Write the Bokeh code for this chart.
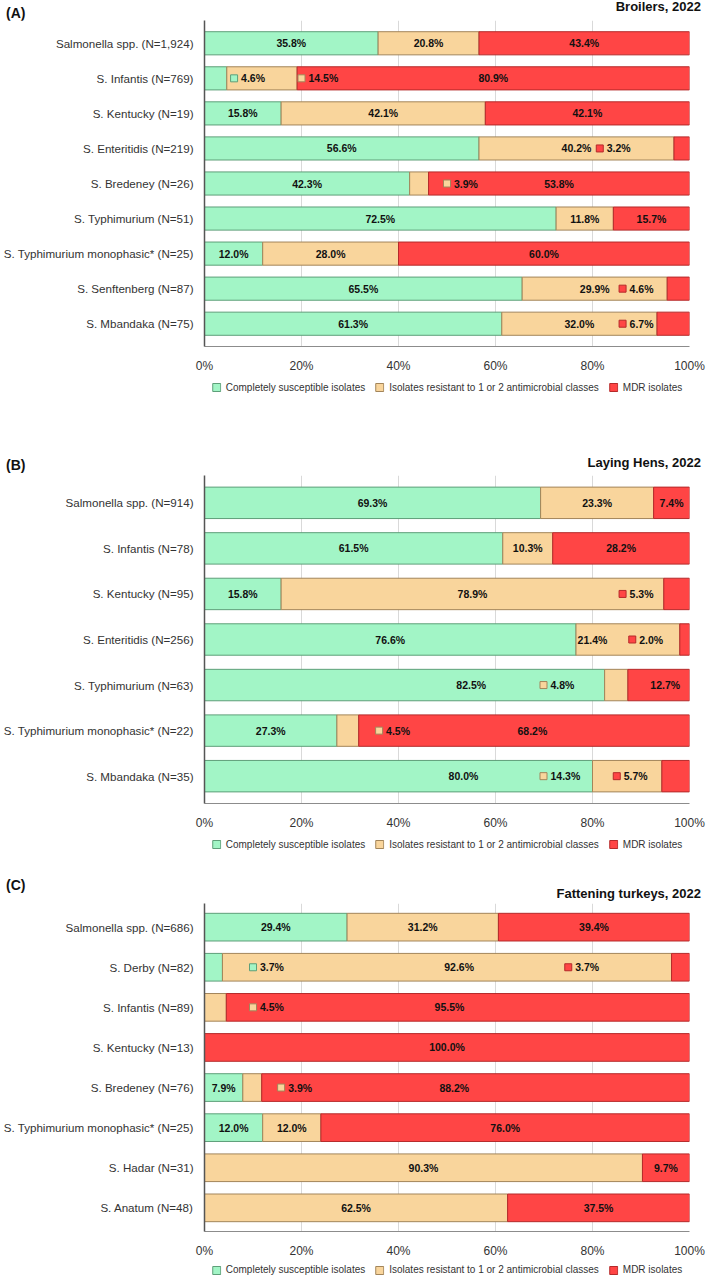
from bokeh.plotting import figure
from bokeh.layouts import column
from bokeh.models import (Range1d, FixedTicker, Legend, LegendItem, Div,
                          ColumnDataSource)
from bokeh.embed import file_html
from bokeh.resources import INLINE
from bokeh.core.properties import value

# ---------------- data ----------------
series_names = ["Completely susceptible isolates",
                "Isolates resistant to 1 or 2 antimicrobial classes",
                "MDR isolates"]

a_cats = ["Salmonella spp. (N=1,924)", "S. Infantis (N=769)", "S. Kentucky (N=19)",
          "S. Enteritidis (N=219)", "S. Bredeney (N=26)", "S. Typhimurium (N=51)",
          "S. Typhimurium monophasic* (N=25)", "S. Senftenberg (N=87)", "S. Mbandaka (N=75)"]
a_susc = [35.8, 4.6, 15.8, 56.6, 42.3, 72.5, 12.0, 65.5, 61.3]
a_res = [20.8, 14.5, 42.1, 40.2, 3.9, 11.8, 28.0, 29.9, 32.0]
a_mdr = [43.4, 80.9, 42.1, 3.2, 53.8, 15.7, 60.0, 4.6, 6.7]

b_cats = ["Salmonella spp. (N=914)", "S. Infantis (N=78)", "S. Kentucky (N=95)",
          "S. Enteritidis (N=256)", "S. Typhimurium (N=63)",
          "S. Typhimurium monophasic* (N=22)", "S. Mbandaka (N=35)"]
b_susc = [69.3, 61.5, 15.8, 76.6, 82.5, 27.3, 80.0]
b_res = [23.3, 10.3, 78.9, 21.4, 4.8, 4.5, 14.3]
b_mdr = [7.4, 28.2, 5.3, 2.0, 12.7, 68.2, 5.7]

c_cats = ["Salmonella spp. (N=686)", "S. Derby (N=82)", "S. Infantis (N=89)",
          "S. Kentucky (N=13)", "S. Bredeney (N=76)",
          "S. Typhimurium monophasic* (N=25)", "S. Hadar (N=31)", "S. Anatum (N=48)"]
c_susc = [29.4, 3.7, 0.0, 0.0, 7.9, 12.0, 0.0, 0.0]
c_res = [31.2, 92.6, 4.5, 0.0, 3.9, 12.0, 90.3, 62.5]
c_mdr = [39.4, 3.7, 95.5, 100.0, 88.2, 76.0, 9.7, 37.5]

x_ticks = [0, 20, 40, 60, 80, 100]

# ------------- layout / style (not data) -------------
FILL = ["#a2f5c6", "#f9d59c", "#ff4545"]
EDGE = ["#5e9f79", "#a3855a", "#b52a2a"]
FONT = "Liberation Sans"
W = 709

# data-label callouts: (row, series, marker position in %)
a_callouts = [(1, 0, 6.1), (1, 1, 20.0), (3, 2, 81.5), (4, 1, 50.0), (7, 2, 86.2), (8, 2, 86.2)]
b_callouts = [(2, 2, 86.2), (3, 2, 88.2), (4, 1, 69.9), (5, 1, 36.0), (6, 1, 69.9), (6, 2, 85.0)]
c_callouts = [(1, 0, 10.0), (1, 2, 75.0), (2, 1, 10.0), (4, 1, 15.8)]
# labels that the source chart moved away from the segment centre (row, series, position in %)
a_moved = []
b_moved = [(3, 1, 80.0), (4, 0, 55.0), (6, 0, 53.4), (4, 2, 95.0), (5, 2, 67.6)]
c_moved = [(1, 1, 52.5), (2, 2, 50.5), (4, 2, 51.5)]


def header(tag, title, h, tag_top, title_top):
    html = (f'<div style="position:relative;width:{W}px;height:{h}px;'
            f'font-family:\'Liberation Sans\',Arial,sans-serif;font-weight:bold;color:#111;">'
            f'<span style="position:absolute;left:6px;top:{tag_top}px;font-size:14px;'
            f'line-height:16px;white-space:nowrap;">{tag}</span>'
            f'<span style="position:absolute;right:8px;top:{title_top}px;font-size:13px;'
            f'line-height:14px;white-space:nowrap;">{title}</span></div>')
    return Div(text=html, width=W, height=h, margin=0)


def legend_strip(left, right, h):
    p = figure(width=W, height=h, x_range=Range1d(0, 1), y_range=Range1d(0, 1),
               min_border_left=left, min_border_right=right,
               min_border_top=0, min_border_bottom=0,
               x_axis_type=None, y_axis_type=None,
               output_backend="svg", toolbar_location=None)
    p.outline_line_color = None
    p.grid.visible = False
    # legend proxies (kept outside the visible range)
    proxy = ColumnDataSource(dict(y=[-5.0], right=[1.0]))
    rends = [p.hbar(y="y", right="right", height=0.5, source=proxy,
                    fill_color=FILL[k], line_color=EDGE[k]) for k in range(3)]
    legend = Legend(items=[LegendItem(label=series_names[k], renderers=[rends[k]])
                           for k in range(3)],
                    orientation="horizontal", location="center",
                    glyph_width=10, glyph_height=10, label_standoff=5, spacing=9,
                    padding=2, margin=0, border_line_color=None,
                    background_fill_alpha=0, label_height=12,
                    label_text_font=FONT, label_text_font_size="10px",
                    label_text_color="#333333")
    p.add_layout(legend)
    return p


def panel(cats, susc, res, mdr, callouts, moved,
          height, left, right, bottom, pad, bar_h):
    n = len(cats)
    ys = list(range(n))
    p = figure(width=W, height=height,
               min_border_left=left, min_border_right=right,
               min_border_top=0, min_border_bottom=bottom,
               x_range=Range1d(0, 100),
               y_range=Range1d(n - 0.5 + pad, -0.5 - pad),
               output_backend="svg", toolbar_location=None,
               background_fill_color="white", border_fill_color="white")
    p.outline_line_color = None

    src = ColumnDataSource(dict(y=ys, s=susc, r=res, m=mdr))
    p.hbar_stack(["s", "r", "m"], y="y", height=bar_h, source=src,
                 fill_color=FILL, line_color=EDGE, line_width=1)

    p.ygrid.grid_line_color = None
    p.xgrid.ticker = FixedTicker(ticks=x_ticks)
    p.xgrid.grid_line_color = "#d9d9d9"

    p.xaxis.ticker = FixedTicker(ticks=x_ticks)
    p.xaxis.major_label_overrides = {t: f"{t}%" for t in x_ticks}
    p.xaxis.major_tick_line_color = None
    p.xaxis.minor_tick_line_color = None
    p.xaxis.axis_line_color = "#8c8c8c"
    p.xaxis.major_label_standoff = 6
    p.xaxis.major_label_text_font = FONT
    p.xaxis.major_label_text_font_size = "12px"
    p.xaxis.major_label_text_color = "#333333"

    p.yaxis.ticker = FixedTicker(ticks=ys)
    p.yaxis.major_label_overrides = {i: c for i, c in enumerate(cats)}
    p.yaxis.major_tick_line_color = None
    p.yaxis.minor_tick_line_color = None
    p.yaxis.axis_line_color = "#555555"
    p.yaxis.axis_line_width = 1.5
    p.yaxis.major_label_standoff = 5
    p.yaxis.major_label_text_font = FONT
    p.yaxis.major_label_text_font_size = "11.6px"
    p.yaxis.major_label_text_color = "#333333"

    cols = [susc, res, mdr]
    cx, cy, ct = [], [], []
    lx, ly, lt = [], [], []
    mx, my, mc, me = [], [], [], []
    call = {(r, s): pos for r, s, pos in callouts}
    mov = {(r, s): pos for r, s, pos in moved}
    for i in range(n):
        start = 0.0
        for s in range(3):
            v = cols[s][i]
            if v > 0:
                txt = f"{v:.1f}%"
                if (i, s) in call:
                    pos = call[(i, s)]
                    mx.append(pos); my.append(i); mc.append(FILL[s]); me.append(EDGE[s])
                    lx.append(pos); ly.append(i); lt.append(txt)
                else:
                    cx.append(mov.get((i, s), start + v / 2)); cy.append(i); ct.append(txt)
            start += v
    p.text(x=cx, y=cy, text=ct, text_align="center", text_baseline="middle",
           text_font=value(FONT), text_font_style="bold", text_font_size="10.5px",
           text_color="#111111")
    p.text(x=lx, y=ly, text=lt, text_align="left", text_baseline="middle", x_offset=7,
           text_font=value(FONT), text_font_style="bold", text_font_size="10.5px",
           text_color="#111111")
    p.scatter(x=mx, y=my, marker="square", size=7, fill_color=mc, line_color=me)
    return p


ha = header("(A)", "Broilers, 2022", 20, 5, 0)
pa = panel(a_cats, a_susc, a_res, a_mdr, a_callouts, a_moved,
           355, 198, 20, 24, 0.15, 0.66)
la = legend_strip(198, 20, 24)

hb = header("(B)", "Laying Hens, 2022", 76, 58, 57)
pb = panel(b_cats, b_susc, b_res, b_mdr, b_callouts, b_moved,
           357, 198, 20, 24, 0.1, 0.69)
lb = legend_strip(198, 20, 24)

hc = header("(C)", "Fattening turkeys, 2022", 47, 21, 31)
pc = panel(c_cats, c_susc, c_res, c_mdr, c_callouts, c_moved,
           357, 201, 15, 24, 0.09, 0.69)
lc = legend_strip(201, 15, 19)

layout = column(ha, pa, la, hb, pb, lb, hc, pc, lc, spacing=0)
open("out.html", "w").write(file_html(layout, INLINE))
